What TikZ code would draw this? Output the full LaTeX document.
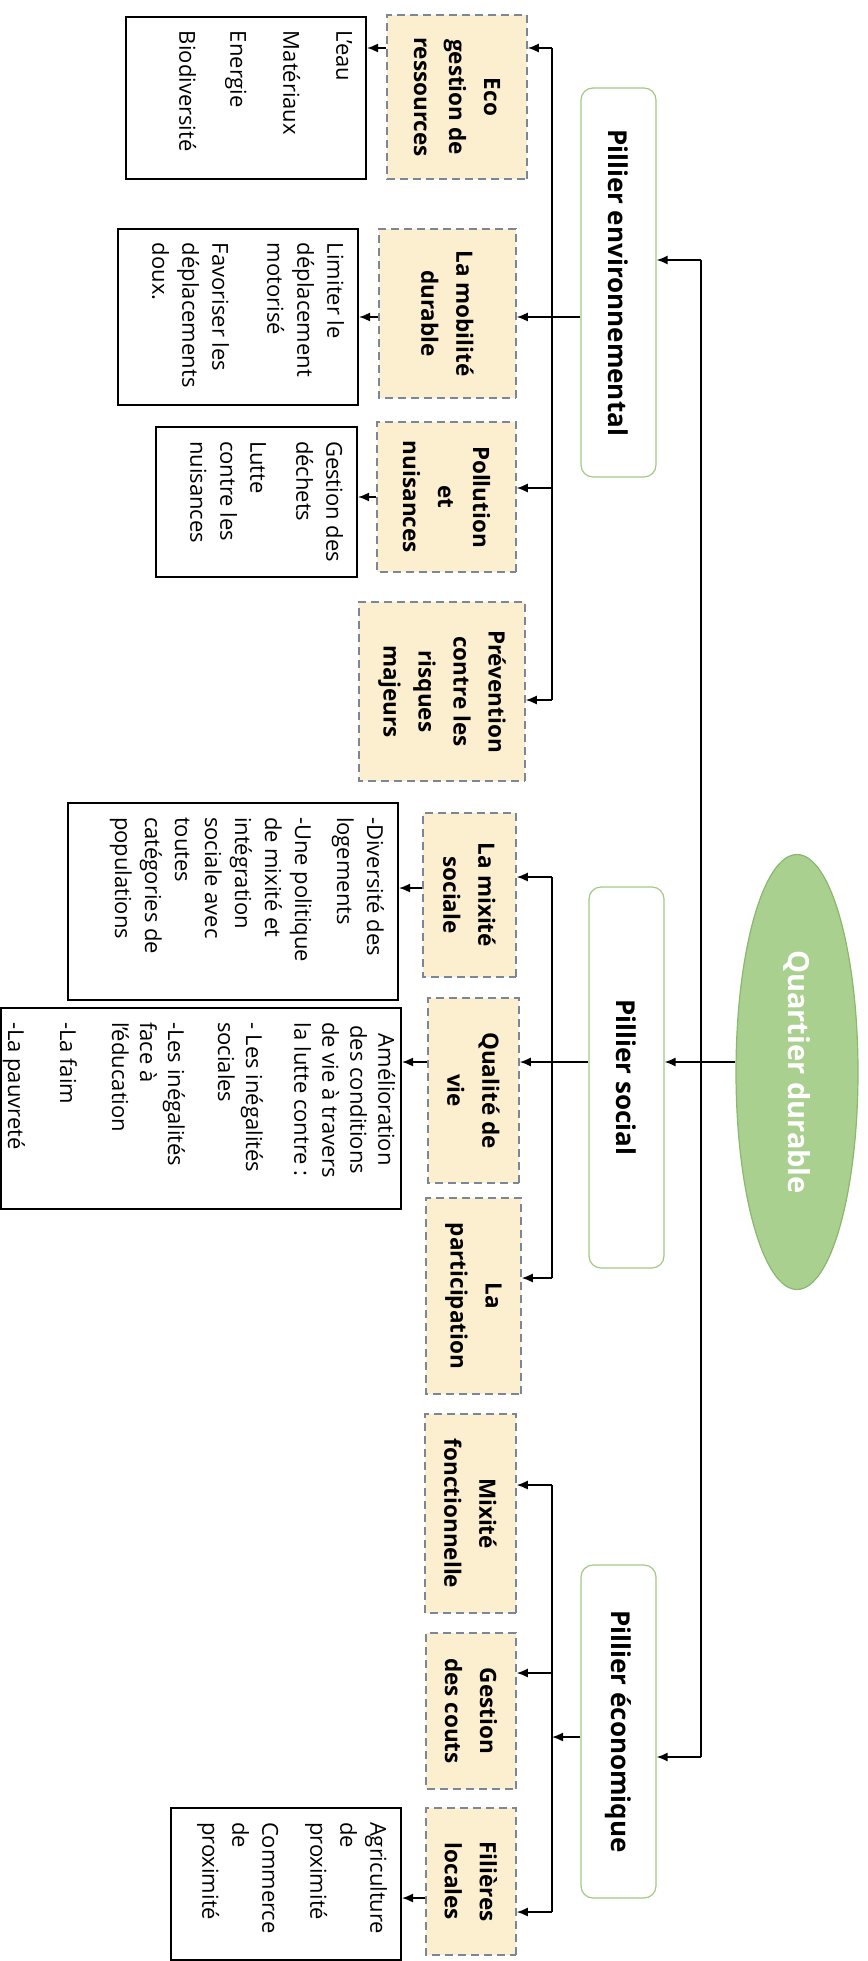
\documentclass[tikz,border=0pt]{standalone}
\usepackage{fontspec}
\setmainfont{Open Sans}
\usetikzlibrary{arrows.meta,shapes.geometric}

\definecolor{pilgreen}{HTML}{A3C985}
\definecolor{ovalfill}{HTML}{A9D08E}
\definecolor{ovaldraw}{HTML}{8AB86E}
\definecolor{themefill}{HTML}{FCEFD0}
\definecolor{dashgray}{HTML}{7B8796}

% text block of a detail box: width, height, lines
\newcommand{\detailtext}[3]{\parbox[c][#2pt][t]{#1pt}{\raggedright #3}}

\tikzset{
  quartier/.style={ellipse, draw=ovaldraw, line width=1.2pt, fill=ovalfill, rotate=-90,
    inner sep=2pt, text=white, font=\bfseries\fontsize{29}{34}\selectfont},
  pilier/.style={draw=pilgreen, line width=1.2pt, rounded corners=12pt, fill=white, rotate=-90,
    minimum height=75, font=\bfseries\fontsize{26}{30}\selectfont},
  theme/.style={draw=dashgray, dash pattern=on 8pt off 5pt, line width=1.5pt, fill=themefill,
    rotate=-90, align=center, font=\bfseries\fontsize{22.5}{35}\selectfont},
  detail/.style={draw=black, line width=2pt, fill=white, rotate=-90,
    inner xsep=14pt, inner ysep=14pt, font=\fontsize{22}{30}\selectfont},
  link/.style={line width=1.6pt},
  flow/.style={link, -{Latex[length=11pt,width=9pt]}}
}

\begin{document}
\begin{tikzpicture}[x=1pt,y=-1pt]
      \useasboundingbox (0,0) rectangle (867,1961);

      % Center node
      \node[quartier, minimum width=435, minimum height=122] (qd) at (797,1072) {Quartier durable};

      % Pillars
      \node[pilier, minimum width=389] (penv) at (618.5,282.5) {Pillier environnemental};
      \node[pilier, minimum width=381] (psoc) at (626.5,1077.5) {Pillier social};
      \node[pilier, minimum width=333] (peco) at (618.5,1731.5) {Pillier économique};

      % Themes
      \node[theme, minimum width=164, minimum height=140] (eco) at (457,97) {Eco\\gestion de\\ressources};
      \node[theme, minimum width=169, minimum height=137] (mob) at (447.5,313.5) {La mobilité\\durable};
      \node[theme, minimum width=150, minimum height=139] (pol) at (446.5,497) {Pollution\\et\\nuisances};
      \node[theme, minimum width=179, minimum height=166] (prev) at (442,691.5) {Prévention\\contre les\\risques\\majeurs};
      \node[theme, minimum width=164, minimum height=93] (mix) at (469.5,895) {La mixité\\sociale};
      \node[theme, minimum width=185, minimum height=91] (qual) at (473.5,1090.5) {Qualité de\\vie};
      \node[theme, minimum width=196, minimum height=95] (part) at (473.5,1296) {La\\participation};
      \node[theme, minimum width=199, minimum height=91] (mixf) at (470.5,1513.5) {Mixité\\fonctionnelle};
      \node[theme, minimum width=156, minimum height=90] (gest) at (471,1711) {Gestion\\des couts};
      \node[theme, minimum width=147, minimum height=90] (fil) at (471,1881.5) {Filières\\locales};

      % Details
      \node[detail] (ecod) at (246,98) {\detailtext{134}{212}{L’eau\\[23pt]Matériaux\\[23pt]Energie\\[21pt]Biodiversité}};
      \node[detail] (mobd) at (238,317) {\detailtext{148}{212}{Limiter le\\déplacement\\motorisé\\[25pt]Favoriser les\\déplacements\\doux.}};
      \node[detail] (pold) at (256.5,502) {\detailtext{122}{173}{Gestion des\\déchets\\[16pt]Lutte\\contre les\\nuisances}};
      \node[detail] (mixd) at (233,901.5) {\detailtext{169}{302}{-Diversité des\\logements\\[12pt]-Une politique\\de mixité et\\intégration\\sociale avec\\toutes\\catégories de\\populations}};
      \node[detail, inner ysep=3pt, font=\fontsize{22}{28}\selectfont] (quald) at (201,1108.5) {\detailtext{173}{394}{\begin{tabular}{@{}c@{}}Amélioration\\des conditions\\de vie à travers\\la lutte contre :\end{tabular}\\[22pt]- Les inégalités\\sociales\\[22pt]-Les inégalités\\face à\\l’éducation\\[24pt]-La faim\\[24pt]-La pauvreté}};
      \node[detail] (fild) at (286,1884) {\detailtext{124}{202}{Agriculture\\de\\proximité\\[18pt]Commerce\\de\\proximité}};

      % Trunk
      \coordinate (t1) at (701,260);
      \coordinate (t2) at (701,1757);
      \coordinate (t0) at (0,1062);
      \draw[link] (t1) -- (t2);
      \draw[flow] (t1) -- (t1 -| penv.north);
      \draw[flow] (t2) -- (t2 -| peco.north);
      \draw[flow] (t0 -| qd.south) -- (t0 -| psoc.north);

      % Environmental branch
      \coordinate (e1) at (552,48);
      \coordinate (e2) at (0,317);
      \coordinate (e3) at (552,488);
      \coordinate (e4) at (552,700);
      \coordinate (d3) at (0,497);
      \draw[link] (e1) -- (e4);
      \draw[flow] (e1) -- (e1 -| eco.north);
      \draw[flow] (e2 -| penv.south) -- (e2 -| mob.north);
      \draw[flow] (e3) -- (e3 -| pol.north);
      \draw[flow] (e4) -- (e4 -| prev.north);
      \draw[flow] (e1 -| eco.south) -- (e1 -| ecod.north);
      \draw[flow] (e2 -| mob.south) -- (e2 -| mobd.north);
      \draw[flow] (d3 -| pol.south) -- (d3 -| pold.north);

      % Social branch
      \coordinate (s1) at (552,877);
      \coordinate (s3) at (552,1278);
      \coordinate (d4) at (0,888);
      \draw[link] (s1) -- (s3);
      \draw[flow] (s1) -- (s1 -| mix.north);
      \draw[flow] (t0 -| psoc.south) -- (t0 -| qual.north);
      \draw[flow] (s3) -- (s3 -| part.north);
      \draw[flow] (d4 -| mix.south) -- (d4 -| mixd.north);
      \draw[flow] (t0 -| qual.south) -- (t0 -| quald.north);

      % Economic branch
      \coordinate (c0) at (552,1737);
      \coordinate (c1) at (552,1485);
      \coordinate (c2) at (552,1673);
      \coordinate (c3) at (552,1912);
      \coordinate (d6) at (0,1898);
      \draw[link] (c1) -- (c3);
      \draw[flow] (c0 -| peco.south) -- (c0);
      \draw[flow] (c1) -- (c1 -| mixf.north);
      \draw[flow] (c2) -- (c2 -| gest.north);
      \draw[flow] (c3) -- (c3 -| fil.north);
      \draw[flow] (d6 -| fil.south) -- (d6 -| fild.north);
    \end{tikzpicture}
\end{document}
